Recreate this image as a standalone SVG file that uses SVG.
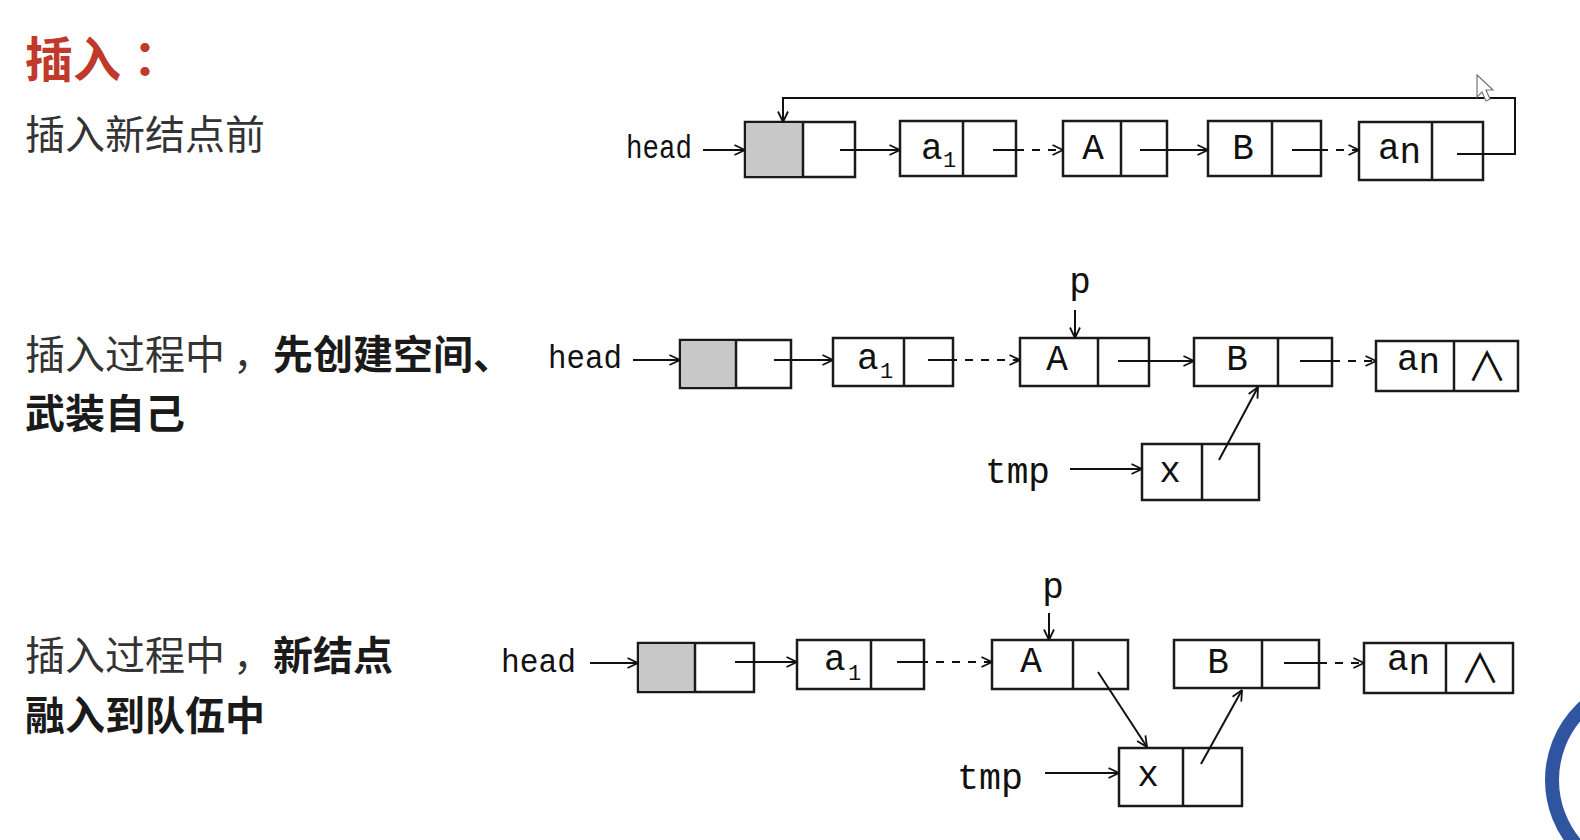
<svg xmlns="http://www.w3.org/2000/svg" width="1580" height="840" viewBox="0 0 1580 840">
<defs>
<marker id="ah" viewBox="0 0 12 12" refX="11.5" refY="6" markerWidth="12" markerHeight="12" markerUnits="userSpaceOnUse" orient="auto">
<path d="M1,1 L11.5,6 L1,11" fill="none" stroke="#111" stroke-width="1.8"/>
</marker>
</defs>
<style>
.box{fill:#fff;stroke:#1a1a1a;stroke-width:2.5}
.gray{fill:#c8c8c8;stroke:none}
.div{stroke:#1a1a1a;stroke-width:2.5}
.ln{stroke:#111;stroke-width:2;fill:none}
.ar{stroke:#111;stroke-width:2;fill:none;marker-end:url(#ah)}
.da{stroke:#111;stroke-width:2;fill:none;stroke-dasharray:8 8;stroke-dashoffset:8;marker-end:url(#ah)}
.lb{font-family:"Liberation Mono","DejaVu Sans Mono",monospace;font-size:36px;fill:#111}
.nm{font-family:"Liberation Mono","DejaVu Sans Mono",monospace;font-size:34px;fill:#111}
.sub{font-family:"Liberation Mono","DejaVu Sans Mono",monospace;font-size:22px;fill:#111}
.nul{font-family:"Noto Sans CJK JP","DejaVu Sans",sans-serif;font-size:40px;fill:#111}
.cn{font-family:"Noto Sans CJK SC","Noto Sans CJK JP",sans-serif;font-size:40px;fill:#333}
.pu{font-family:"Noto Sans CJK TC","Noto Sans CJK SC",sans-serif}
.b{font-weight:bold;fill:#1a1a1a}
.title{font-family:"Noto Sans CJK SC","Noto Sans CJK JP",sans-serif;font-size:48px;font-weight:bold;fill:#c0392b}
</style>
<rect width="1580" height="840" fill="#fff"/>

<g id="captions">
<text class="title" x="25" y="77">插入<tspan class="pu">：</tspan></text>
<text class="cn" x="25" y="149">插入新结点前</text>
<text class="cn" x="25" y="369">插入过程中<tspan dx="8">，</tspan><tspan class="b">先创建空间、</tspan></text>
<text class="cn b" x="25" y="428">武装自己</text>
<text class="cn" x="25" y="670">插入过程中<tspan dx="8">，</tspan><tspan class="b">新结点</tspan></text>
<text class="cn b" x="25" y="730">融入到队伍中</text>
</g>

<!-- Row 1 -->
<g id="r1-headlabel"><text class="nm" x="626" y="158" textLength="66" lengthAdjust="spacingAndGlyphs">head</text></g>
<g id="r1-head"><rect class="box" x="745" y="122" width="110" height="55"/><rect class="gray" x="746.5" y="123.5" width="56" height="52"/><line class="div" x1="803" y1="122" x2="803" y2="177"/></g>
<g id="r1-a1"><rect class="box" x="900" y="121" width="116" height="55"/><line class="div" x1="963" y1="121" x2="963" y2="176"/><text class="lb" x="921" y="159">a</text><text class="sub" x="943" y="167">1</text></g>
<g id="r1-A"><rect class="box" x="1063" y="121" width="104" height="55"/><line class="div" x1="1121" y1="121" x2="1121" y2="176"/><text class="lb" x="1093" y="159" text-anchor="middle">A</text></g>
<g id="r1-B"><rect class="box" x="1208" y="121" width="113" height="55"/><line class="div" x1="1272" y1="121" x2="1272" y2="176"/><text class="lb" x="1243" y="159" text-anchor="middle">B</text></g>
<g id="r1-an"><rect class="box" x="1359" y="122" width="124" height="58"/><line class="div" x1="1432" y1="122" x2="1432" y2="180"/><text class="lb" x="1378" y="159">a<tspan dy="4">n</tspan></text></g>

<!-- Row 2 -->
<g id="r2-headlabel"><text class="nm" x="548" y="368" textLength="74" lengthAdjust="spacingAndGlyphs">head</text></g>
<g id="r2-head"><rect class="box" x="680" y="340" width="111" height="48"/><rect class="gray" x="681.5" y="341.5" width="53.5" height="45"/><line class="div" x1="736" y1="340" x2="736" y2="388"/></g>
<g id="r2-a1"><rect class="box" x="833" y="338" width="120" height="48"/><line class="div" x1="904" y1="338" x2="904" y2="386"/><text class="lb" x="857" y="369">a</text><text class="sub" x="880" y="378">1</text></g>
<g id="r2-p"><text class="lb" x="1080" y="293" text-anchor="middle">p</text></g>
<g id="r2-A"><rect class="box" x="1020" y="338" width="129" height="48"/><line class="div" x1="1098" y1="338" x2="1098" y2="386"/><text class="lb" x="1057" y="370" text-anchor="middle">A</text></g>
<g id="r2-B"><rect class="box" x="1194" y="338" width="138" height="48"/><line class="div" x1="1278" y1="338" x2="1278" y2="386"/><text class="lb" x="1237" y="370" text-anchor="middle">B</text></g>
<g id="r2-an"><rect class="box" x="1376" y="341" width="142" height="50"/><line class="div" x1="1454" y1="341" x2="1454" y2="391"/><text class="lb" x="1397" y="370">a<tspan dy="3">n</tspan></text><text class="nul" x="1487" y="381" text-anchor="middle">∧</text></g>
<g id="r2-tmplabel"><text class="lb" x="985" y="483" textLength="65" lengthAdjust="spacingAndGlyphs">tmp</text></g>
<g id="r2-x"><rect class="box" x="1142" y="444" width="117" height="56"/><line class="div" x1="1202" y1="444" x2="1202" y2="500"/><text class="lb" x="1170" y="482" text-anchor="middle">x</text></g>

<!-- Row 3 -->
<g id="r3-headlabel"><text class="nm" x="501" y="672" textLength="75" lengthAdjust="spacingAndGlyphs">head</text></g>
<g id="r3-head"><rect class="box" x="638" y="643" width="116" height="49"/><rect class="gray" x="639.5" y="644.5" width="55" height="46"/><line class="div" x1="695" y1="643" x2="695" y2="692"/></g>
<g id="r3-a1"><rect class="box" x="797" y="640" width="127" height="49"/><line class="div" x1="871" y1="640" x2="871" y2="689"/><text class="lb" x="824" y="670">a</text><text class="sub" x="848" y="680">1</text></g>
<g id="r3-p"><text class="lb" x="1053" y="598" text-anchor="middle">p</text></g>
<g id="r3-A"><rect class="box" x="992" y="640" width="136" height="49"/><line class="div" x1="1073" y1="640" x2="1073" y2="689"/><text class="lb" x="1031" y="672" text-anchor="middle">A</text></g>
<g id="r3-B"><rect class="box" x="1174" y="640" width="145" height="48"/><line class="div" x1="1262" y1="640" x2="1262" y2="688"/><text class="lb" x="1218" y="673" text-anchor="middle">B</text></g>
<g id="r3-an"><rect class="box" x="1364" y="643" width="149" height="50"/><line class="div" x1="1446" y1="643" x2="1446" y2="693"/><text class="lb" x="1387" y="670">a<tspan dy="4">n</tspan></text><text class="nul" x="1480" y="683" text-anchor="middle">∧</text></g>
<g id="r3-tmplabel"><text class="lb" x="957" y="789" textLength="66" lengthAdjust="spacingAndGlyphs">tmp</text></g>
<g id="r3-x"><rect class="box" x="1119" y="748" width="123" height="58"/><line class="div" x1="1183" y1="748" x2="1183" y2="806"/><text class="lb" x="1148" y="786" text-anchor="middle">x</text></g>

<g id="connectors">
<!-- row 1 -->
<line class="ar" x1="703" y1="150" x2="745" y2="150"/>
<line class="ar" x1="840" y1="150" x2="900" y2="150"/>
<line class="ln" x1="993" y1="150" x2="1024" y2="150"/>
<line class="da" x1="1024" y1="150" x2="1063" y2="150"/>
<line class="ar" x1="1140" y1="150" x2="1208" y2="150"/>
<line class="ln" x1="1292" y1="150" x2="1328" y2="150"/>
<line class="da" x1="1328" y1="150" x2="1359" y2="150"/>
<path class="ar" d="M1457,154 H1515 V98 H783 V122"/>
<!-- row 2 -->
<line class="ar" x1="633" y1="360" x2="680" y2="360"/>
<line class="ar" x1="774" y1="360" x2="833" y2="360"/>
<line class="ln" x1="928" y1="360" x2="957" y2="360"/>
<line class="da" x1="957" y1="360" x2="1020" y2="360"/>
<line class="ar" x1="1075" y1="310" x2="1075" y2="338"/>
<line class="ar" x1="1118" y1="361" x2="1194" y2="361"/>
<line class="ln" x1="1300" y1="361" x2="1340" y2="361"/>
<line class="da" x1="1340" y1="361" x2="1376" y2="361"/>
<line class="ar" x1="1070" y1="469" x2="1142" y2="469"/>
<line class="ar" x1="1219" y1="460" x2="1258" y2="387"/>
<!-- row 3 -->
<line class="ar" x1="590" y1="663" x2="638" y2="663"/>
<line class="ar" x1="735" y1="662" x2="797" y2="662"/>
<line class="ln" x1="897" y1="662" x2="928" y2="662"/>
<line class="da" x1="928" y1="662" x2="992" y2="662"/>
<line class="ar" x1="1049" y1="613" x2="1049" y2="640"/>
<line class="ar" x1="1098" y1="672" x2="1147" y2="747"/>
<line class="ar" x1="1201" y1="764" x2="1242" y2="690"/>
<line class="ln" x1="1284" y1="663" x2="1327" y2="663"/>
<line class="da" x1="1327" y1="663" x2="1364" y2="663"/>
<line class="ar" x1="1045" y1="773" x2="1119" y2="773"/>
</g>

<g id="cursor"><path d="M1477,75 L1477,97 L1482,92 L1486,101 L1490,99 L1486,90 L1493,90 Z" fill="#fff" stroke="#777" stroke-width="1.2"/></g>
<g id="ring"><circle cx="1651" cy="780" r="99" fill="none" stroke="#2f55a0" stroke-width="14"/></g>
</svg>
